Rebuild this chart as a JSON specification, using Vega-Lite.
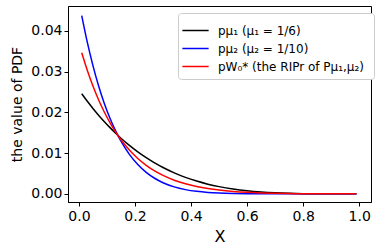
{
  "$schema": "https://vega.github.io/schema/vega-lite/v6.json",
  "autosize": {"type": "none"},
  "padding": {"left": 68, "top": 6, "right": 9, "bottom": 49},
  "width": 303,
  "height": 196,
  "background": "white",
  "config": {
    "font": "DejaVu Sans",
    "view": {"stroke": "black", "strokeWidth": 1},
    "axis": {"grid": false, "domainColor": "black", "tickColor": "black", "labelColor": "black", "titleColor": "black", "labelFont": "DejaVu Sans", "titleFont": "DejaVu Sans", "titleFontWeight": "normal", "tickSize": 4, "labelFontSize": 14}
  },
  "data": {"values": [
    {"x": 0.01, "s": "a", "y": 0.02457}, {"x": 0.03, "s": "a", "y": 0.02271}, {"x": 0.05, "s": "a", "y": 0.02096}, {"x": 0.07, "s": "a", "y": 0.01931}, {"x": 0.09, "s": "a", "y": 0.01776}, {"x": 0.11, "s": "a", "y": 0.01631}, {"x": 0.13, "s": "a", "y": 0.01494}, {"x": 0.15, "s": "a", "y": 0.01366}, {"x": 0.18, "s": "a", "y": 0.0119}, {"x": 0.21, "s": "a", "y": 0.01031}, {"x": 0.24, "s": "a", "y": 0.00888}, {"x": 0.27, "s": "a", "y": 0.0076}, {"x": 0.30, "s": "a", "y": 0.00647}, {"x": 0.34, "s": "a", "y": 0.00516}, {"x": 0.38, "s": "a", "y": 0.00405}, {"x": 0.42, "s": "a", "y": 0.00314}, {"x": 0.46, "s": "a", "y": 0.00238}, {"x": 0.50, "s": "a", "y": 0.00177}, {"x": 0.55, "s": "a", "y": 0.00118}, {"x": 0.60, "s": "a", "y": 0.00075}, {"x": 0.65, "s": "a", "y": 0.000449}, {"x": 0.70, "s": "a", "y": 0.000248}, {"x": 0.75, "s": "a", "y": 0.000123}, {"x": 0.80, "s": "a", "y": 0.000052}, {"x": 0.90, "s": "a", "y": 0.0000036}, {"x": 0.99, "s": "a", "y": 0.0},
    {"x": 0.01, "s": "b", "y": 0.04376}, {"x": 0.03, "s": "b", "y": 0.03717}, {"x": 0.05, "s": "b", "y": 0.03147}, {"x": 0.07, "s": "b", "y": 0.02654}, {"x": 0.09, "s": "b", "y": 0.02231}, {"x": 0.11, "s": "b", "y": 0.01867}, {"x": 0.13, "s": "b", "y": 0.01557}, {"x": 0.15, "s": "b", "y": 0.01292}, {"x": 0.18, "s": "b", "y": 0.0097}, {"x": 0.21, "s": "b", "y": 0.0072}, {"x": 0.24, "s": "b", "y": 0.00528}, {"x": 0.27, "s": "b", "y": 0.00383}, {"x": 0.30, "s": "b", "y": 0.00273}, {"x": 0.34, "s": "b", "y": 0.00171}, {"x": 0.38, "s": "b", "y": 0.00104}, {"x": 0.42, "s": "b", "y": 0.00061}, {"x": 0.46, "s": "b", "y": 0.00034}, {"x": 0.50, "s": "b", "y": 0.000185}, {"x": 0.55, "s": "b", "y": 0.00008}, {"x": 0.60, "s": "b", "y": 0.000031}, {"x": 0.65, "s": "b", "y": 0.000011}, {"x": 0.70, "s": "b", "y": 0.000003}, {"x": 0.75, "s": "b", "y": 0.0000007}, {"x": 0.80, "s": "b", "y": 0.0}, {"x": 0.90, "s": "b", "y": 0.0}, {"x": 0.99, "s": "b", "y": 0.0},
    {"x": 0.01, "s": "c", "y": 0.03461}, {"x": 0.03, "s": "c", "y": 0.03027}, {"x": 0.05, "s": "c", "y": 0.02646}, {"x": 0.07, "s": "c", "y": 0.02309}, {"x": 0.09, "s": "c", "y": 0.02014}, {"x": 0.11, "s": "c", "y": 0.01754}, {"x": 0.13, "s": "c", "y": 0.01527}, {"x": 0.15, "s": "c", "y": 0.01328}, {"x": 0.18, "s": "c", "y": 0.01075}, {"x": 0.21, "s": "c", "y": 0.00868}, {"x": 0.24, "s": "c", "y": 0.007}, {"x": 0.27, "s": "c", "y": 0.00563}, {"x": 0.30, "s": "c", "y": 0.00452}, {"x": 0.34, "s": "c", "y": 0.00335}, {"x": 0.38, "s": "c", "y": 0.00247}, {"x": 0.42, "s": "c", "y": 0.00182}, {"x": 0.46, "s": "c", "y": 0.00132}, {"x": 0.50, "s": "c", "y": 0.00094}, {"x": 0.55, "s": "c", "y": 0.0006}, {"x": 0.60, "s": "c", "y": 0.00037}, {"x": 0.65, "s": "c", "y": 0.00022}, {"x": 0.70, "s": "c", "y": 0.00012}, {"x": 0.75, "s": "c", "y": 0.0000587}, {"x": 0.80, "s": "c", "y": 0.000025}, {"x": 0.90, "s": "c", "y": 0.0000017}, {"x": 0.99, "s": "c", "y": 0.0}
  ]},
  "mark": {"type": "line", "strokeWidth": 1.5, "interpolate": "monotone", "clip": true},
  "encoding": {
    "x": {"field": "x", "type": "quantitative", "scale": {"domain": [-0.039, 1.042], "nice": false, "zero": false},
      "axis": {"values": [0, 0.2, 0.4, 0.6, 0.8, 1.0], "format": ".1f", "title": "X", "titleFontSize": 16, "titlePadding": 5, "labelPadding": 3, "labelFlush": false}},
    "y": {"field": "y", "type": "quantitative", "scale": {"domain": [-0.002, 0.0461], "nice": false, "zero": false},
      "axis": {"values": [0, 0.01, 0.02, 0.03, 0.04], "format": ".2f", "title": "the value of PDF", "titleFontSize": 14, "titlePadding": 6, "labelPadding": 2, "labelFlush": false}},
    "color": {"field": "s", "type": "nominal", "scale": {"domain": ["a", "b", "c"], "range": ["black", "blue", "red"]},
      "legend": {"title": null, "orient": "none", "legendX": 110, "legendY": 7, "labelExpr": "datum.value == 'a' ? 'pμ₁ (μ₁ = 1/6)' : datum.value == 'b' ? 'pμ₂ (μ₂ = 1/10)' : 'pW₀*  (the RIPr of Pμ₁,μ₂)'", "symbolType": "M-1.25,0H1.25", "symbolSize": 441, "symbolStrokeWidth": 1.5, "labelFontSize": 12, "labelFont": "DejaVu Sans", "labelColor": "black", "rowPadding": 0, "padding": 6, "fillColor": "white", "strokeColor": "#cccccc", "cornerRadius": 3, "labelOffset": 11}}
  }
}
